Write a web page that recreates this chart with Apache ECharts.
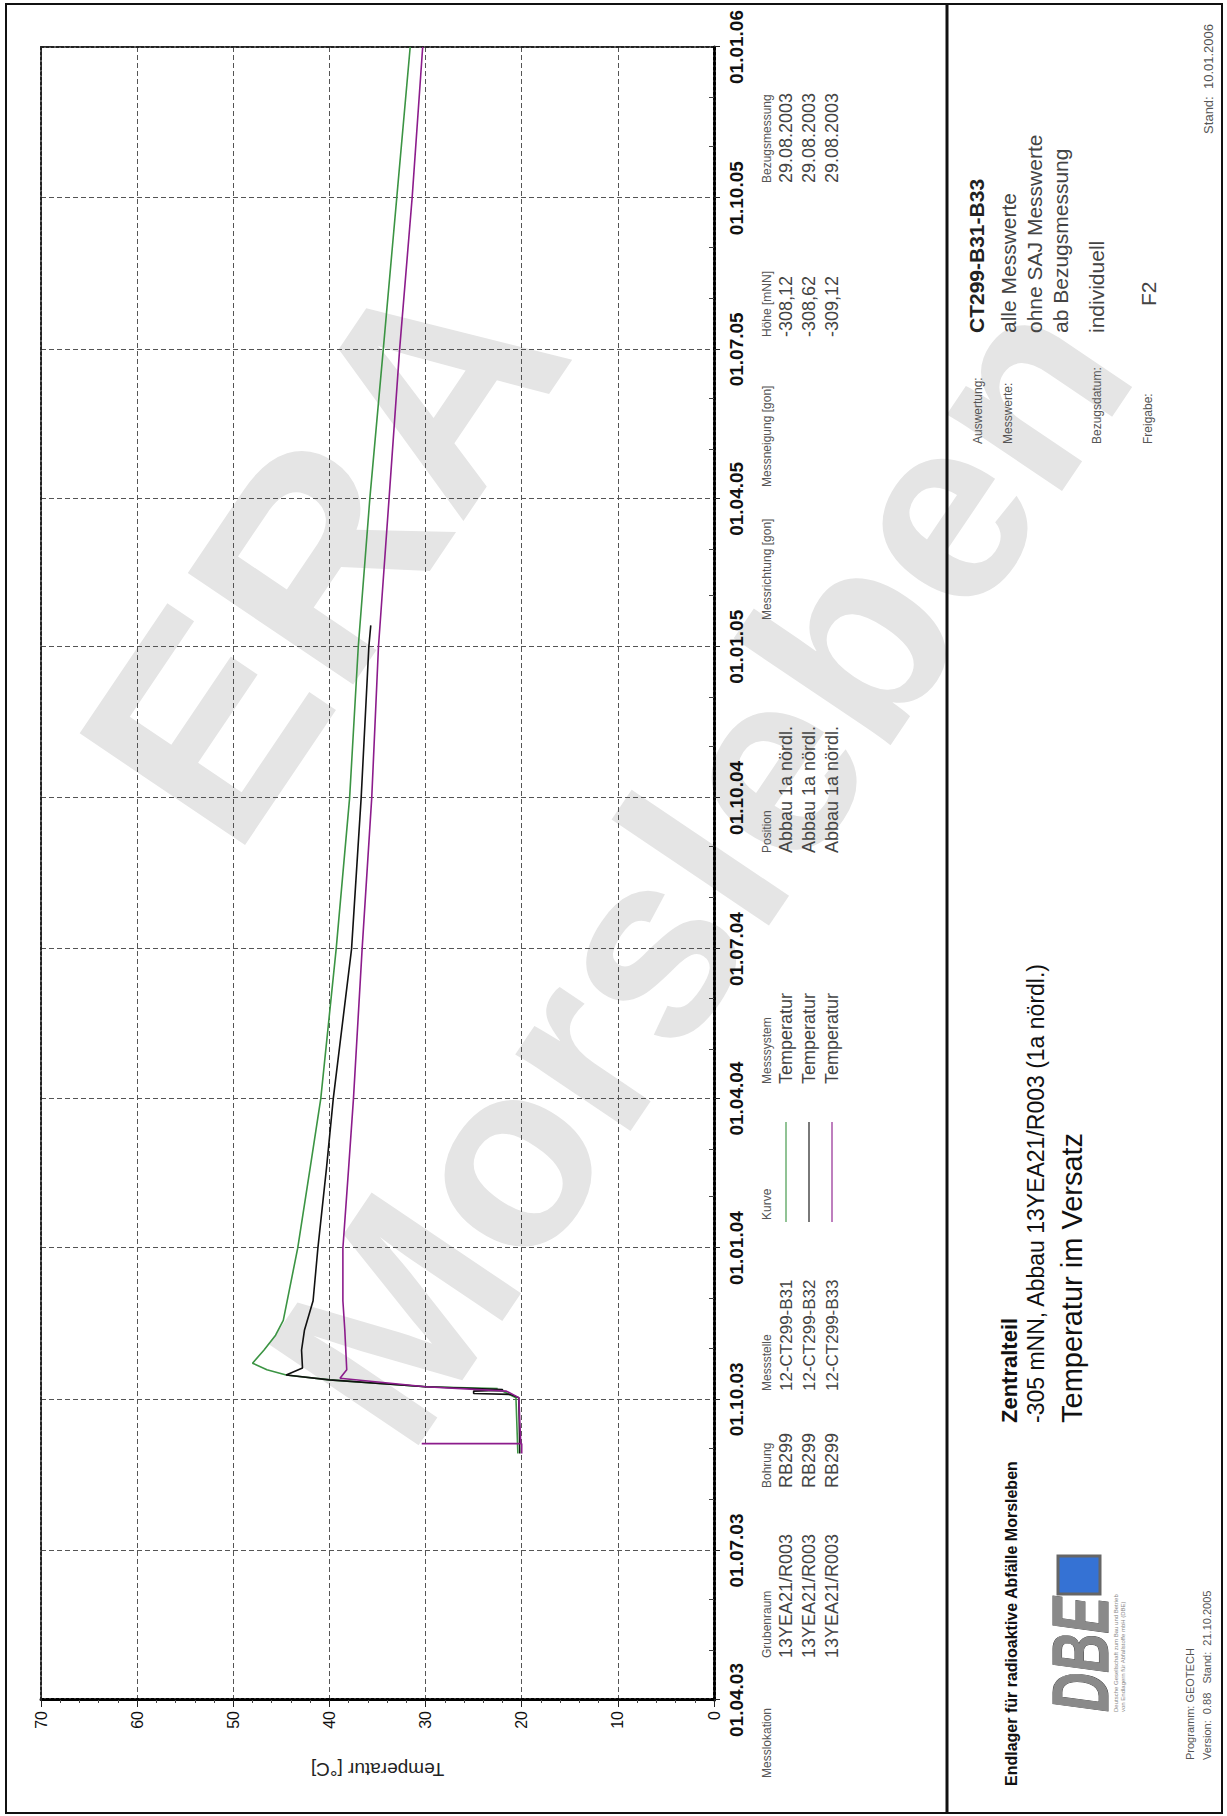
<!DOCTYPE html>
<html><head><meta charset="utf-8">
<script src="https://cdn.jsdelivr.net/npm/echarts@6/dist/echarts.min.js"></script>
<style>
html,body{margin:0;padding:0;background:#fff;overflow:hidden;width:1227px;height:1816px;}
#page{position:absolute;left:0;top:0;width:1816px;height:1227px;transform-origin:0 0;transform:translate(0,1816px) rotate(-90deg);background:#fff;}
</style></head><body><div id="page"></div>
<script>
// ---- axis ticks ----
const dateTicks = ['2003-04-01','2003-07-01','2003-10-01','2004-01-01','2004-04-01','2004-07-01',
  '2004-10-01','2005-01-01','2005-04-01','2005-07-01','2005-10-01','2006-01-01'];
const tempTicks = [0,10,20,30,40,50,60,70];

// ---- series: 12-CT299-B31 (green) ----
const b31Dates = ['2003-08-29','2003-10-02','2003-10-06','2003-10-07','2003-10-07 12:00','2003-10-08 16:00',
  '2003-10-12 20:00','2003-10-15 20:00','2003-10-19','2003-10-23','2003-10-31','2003-11-09','2003-11-18',
  '2004-01-01','2004-02-19','2004-04-01','2004-07-01','2004-10-01','2005-01-01','2005-04-01','2005-07-01',
  '2005-10-01','2006-01-01'];
const b31Values = [20.4,20.6,22.0,24.5,22.5,30.0,40.0,44.5,46.5,48.0,46.8,45.6,44.8,
  43.3,42.0,40.9,39.3,37.9,37.0,35.8,34.4,33.0,31.6];

// ---- series: 12-CT299-B32 (black) ----
const b32Dates = ['2003-08-29','2003-10-02','2003-10-04','2003-10-04 12:00','2003-10-06','2003-10-06 12:00',
  '2003-10-07','2003-10-08 16:00','2003-10-12 20:00','2003-10-15 20:00','2003-10-20','2003-10-31','2003-11-12',
  '2003-11-30','2004-01-01','2004-02-19','2004-04-01','2004-07-01','2004-10-01','2005-01-01','2005-01-14'];
const b32Values = [20.2,20.3,21.2,25.0,25.0,22.0,22.0,30.0,40.0,44.5,42.8,42.9,42.6,
  41.7,41.2,40.3,39.6,37.7,36.7,35.9,35.7];

// ---- series: 12-CT299-B33 (purple) ----
const b33Dates = ['2003-08-29','2003-09-04','2003-09-04','2003-09-04','2003-10-02','2003-10-06','2003-10-08 16:00',
  '2003-10-13 20:00','2003-10-19','2003-11-12','2003-11-30','2004-01-01','2004-02-19','2004-04-01','2004-07-01',
  '2004-10-01','2005-01-01','2005-04-01','2005-07-01','2005-10-01','2006-01-01'];
const b33Values = [20.0,20.0,30.4,20.1,20.3,21.6,30.0,38.9,38.2,38.4,38.6,38.6,38.0,37.5,36.6,
  35.6,34.9,33.8,32.7,31.4,30.3];

// ---- legend table ----
const tableHeaders = ['Messlokation','Grubenraum','Bohrung','Messstelle','Kurve','Messsystem','Position',
  'Messrichtung [gon]','Messneigung [gon]','Höhe [mNN]','Bezugsmessung'];
const seriesNames = ['12-CT299-B31','12-CT299-B32','12-CT299-B33'];
const grubenraum = ['13YEA21/R003','13YEA21/R003','13YEA21/R003'];
const bohrung = ['RB299','RB299','RB299'];
const messsystem = ['Temperatur','Temperatur','Temperatur'];
const position = ['Abbau 1a nördl.','Abbau 1a nördl.','Abbau 1a nördl.'];
const hoehe = ['-308,12','-308,62','-309,12'];
const bezug = ['29.08.2003','29.08.2003','29.08.2003'];
const colors = ['#3b9443','#111111','#8c1c8c'];

const toTime = s => { const p = s.split(' '); const d = p[0].split('-').map(Number);
  let h = 0, mi = 0; if (p[1]) { const t = p[1].split(':').map(Number); h = t[0]; mi = t[1]; }
  return new Date(d[0], d[1]-1, d[2], h, mi).getTime(); };
const pad = n => (n < 10 ? '0' : '') + n;
const fmtDate = v => { const d = new Date(v); return pad(d.getDate())+'.'+pad(d.getMonth()+1)+'.'+pad(d.getFullYear()%100); };

const tMin = toTime(dateTicks[0]), tMax = toTime(dateTicks[dateTicks.length-1]);
const quarterVals = dateTicks.map(toTime);
const monthVals = [];
for (let y = 2003; y <= 2005; y++) for (let m = 0; m < 12; m++) {
  const v = new Date(y, m, 1).getTime();
  if (v > tMin && v < tMax && m % 3 !== 0) monthVals.push(v);
}

const FF = '"Liberation Sans", Arial, sans-serif';
const G = [];
function T(x, y, text, size, o) {
  o = o || {};
  G.push({ type: 'text', x: x, y: y, rotation: o.rot || 0, scaleX: o.sx || 1, z: o.z || 10,
    style: { text: text, fontSize: size, fontFamily: FF, fontWeight: o.bold ? 'bold' : 'normal',
      fontStyle: o.italic ? 'italic' : 'normal', fill: o.fill || '#333',
      stroke: o.stroke || null, lineWidth: o.stroke ? 1 : 0,
      align: o.align || 'left', textAlign: o.align || 'left', verticalAlign: 'middle', textVerticalAlign: 'middle' } });
}
// watermark
T(1265, 322, 'ERA', 290, { bold: true, fill: '#e5e5e5', align: 'center', rot: -34*Math.PI/180, z: -5 });
T(950, 700, 'Morsleben', 262, { bold: true, fill: '#e5e5e5', align: 'center', rot: -34*Math.PI/180, z: -5 });

// frame & separator
G.push({ type: 'rect', shape: { x: 3, y: 6, width: 1809, height: 1216 }, style: { fill: null, stroke: '#111', lineWidth: 2 }, z: 10 });
G.push({ type: 'line', shape: { x1: 3, y1: 947, x2: 1812, y2: 947 }, style: { stroke: '#111', lineWidth: 3 }, z: 10 });

// legend table
const colX = [38, 158, 328, 425, 596, 732, 963, 1196, 1329, 1479, 1633];
const hdrY = 767, rowY = [786, 809, 832];
tableHeaders.forEach((h, i) => T(colX[i], hdrY, h, 12, { fill: '#555' }));
for (let r = 0; r < 3; r++) {
  T(colX[1], rowY[r], grubenraum[r], 18, { fill: '#444' });
  T(colX[2], rowY[r], bohrung[r], 18, { fill: '#444' });
  T(colX[3], rowY[r], seriesNames[r], 17, { fill: '#444' });
  G.push({ type: 'line', shape: { x1: 594, y1: rowY[r], x2: 694, y2: rowY[r] }, style: { stroke: colors[r], lineWidth: 1.5, opacity: 0.75 }, z: 10 });
  T(colX[5], rowY[r], messsystem[r], 18, { fill: '#444' });
  T(colX[6], rowY[r], position[r], 18, { fill: '#444' });
  T(colX[9], rowY[r], hoehe[r], 18, { fill: '#444' });
  T(colX[10], rowY[r], bezug[r], 18, { fill: '#444' });
}

// info panel (left)
T(30, 1011, 'Endlager für radioaktive Abfälle Morsleben', 16, { bold: true, fill: '#111' });
T(393, 1009, 'Zentralteil', 22, { bold: true, fill: '#111' });
T(393, 1036, '-305 mNN, Abbau 13YEA21/R003 (1a nördl.)', 23, { fill: '#111' });
T(393, 1072, 'Temperatur im Versatz', 29, { fill: '#111' });
// DBE logo
T(104, 1080, 'DBE', 80, { bold: true, italic: true, fill: '#8a8a8a', stroke: '#444', sx: 0.68 });
G.push({ type: 'rect', shape: { x: 222, y: 1058, width: 38, height: 42 }, style: { fill: '#3572d4', stroke: '#666', lineWidth: 3 }, z: 10 });
T(104, 1116, 'Deutsche Gesellschaft zum Bau und Betrieb', 6, { fill: '#888' });
T(104, 1123, 'von Endlagern für Abfallstoffe mbH (DBE)', 6, { fill: '#888' });
T(56, 1190, 'Programm: GEOTECH', 11, { fill: '#555' });
T(56, 1207, 'Version:  0.88   Stand:  21.10.2005', 11, { fill: '#555' });
// info panel (right)
T(1372, 978, 'Auswertung:', 12, { fill: '#555' });
T(1483, 976, 'CT299-B31-B33', 21, { bold: true, fill: '#222' });
T(1372, 1008, 'Messwerte:', 12, { fill: '#555' });
T(1483, 1008, 'alle Messwerte', 21, { fill: '#444' });
T(1483, 1034, 'ohne SAJ Messwerte', 21, { fill: '#444' });
T(1483, 1060, 'ab Bezugsmessung', 21, { fill: '#444' });
T(1372, 1097, 'Bezugsdatum:', 12, { fill: '#555' });
T(1483, 1096, 'individuell', 21, { fill: '#444' });
T(1372, 1148, 'Freigabe:', 12, { fill: '#555' });
T(1510, 1148, 'F2', 21, { fill: '#444' });
T(1792, 1208, 'Stand:  10.01.2006', 13, { fill: '#555', align: 'right' });

const gridStyle = { color: '#555', width: 1, type: [5, 3] };
const chart = echarts.init(document.getElementById('page'), null, { renderer: 'svg', width: 1816, height: 1227 });
chart.setOption({
  animation: false,
  backgroundColor: '#fff',
  grid: { left: 116, right: 47, top: 41, bottom: 513, containLabel: false },
  xAxis: [
    { type: 'value', min: tMin, max: tMax, position: 'bottom', scale: true,
      axisLine: { show: true, onZero: false, lineStyle: { color: '#000', width: 3, type: [3, 2] } },
      axisTick: { show: true, inside: false, length: 6, lineStyle: { color: '#222' }, customValues: quarterVals },
      axisLabel: { show: true, customValues: quarterVals, formatter: fmtDate, margin: 13, fontSize: 19, fontWeight: 'bold',
        fontFamily: FF, color: '#111', hideOverlap: false, showMinLabel: true, showMaxLabel: true },
      splitLine: { show: true, lineStyle: gridStyle } },
    { type: 'value', min: tMin, max: tMax, position: 'top', scale: true,
      axisLine: { show: true, onZero: false, lineStyle: { color: '#222', width: 2, type: [3, 2] } },
      axisTick: { show: false }, axisLabel: { show: false }, splitLine: { show: false } },
    { type: 'value', min: tMin, max: tMax, position: 'bottom', scale: true,
      axisLine: { show: false, onZero: false },
      axisTick: { show: true, inside: true, length: 5, lineStyle: { color: '#444' }, customValues: monthVals },
      axisLabel: { show: false }, splitLine: { show: false } }
  ],
  yAxis: [
    { type: 'value', min: tempTicks[0], max: tempTicks[tempTicks.length-1], interval: 10, position: 'left',
      name: 'Temperatur [°C]', nameLocation: 'middle', nameGap: 60, nameRotate: 90,
      nameTextStyle: { fontSize: 19, fontFamily: FF, color: '#222' },
      axisLine: { show: true, onZero: false, lineStyle: { color: '#000', width: 3, type: [3, 2] } },
      axisTick: { show: true, length: 7, lineStyle: { color: '#222' } },
      minorTick: { show: true, splitNumber: 5, length: 3, lineStyle: { color: '#444' } },
      axisLabel: { fontSize: 16, fontFamily: FF, color: '#111', margin: 11 },
      splitLine: { show: true, lineStyle: gridStyle } },
    { type: 'value', min: tempTicks[0], max: tempTicks[tempTicks.length-1], interval: 10, position: 'right',
      axisLine: { show: true, onZero: false, lineStyle: { color: '#222', width: 2, type: [3, 2] } },
      axisTick: { show: false }, axisLabel: { show: false }, splitLine: { show: false } }
  ],
  series: [
    { name: seriesNames[0], type: 'line', xAxisIndex: 0, yAxisIndex: 0, showSymbol: false, z: 3,
      lineStyle: { color: colors[0], width: 1.6 }, data: b31Dates.map((d, i) => [toTime(d), b31Values[i]]) },
    { name: seriesNames[1], type: 'line', xAxisIndex: 0, yAxisIndex: 0, showSymbol: false, z: 3,
      lineStyle: { color: colors[1], width: 1.6 }, data: b32Dates.map((d, i) => [toTime(d), b32Values[i]]) },
    { name: seriesNames[2], type: 'line', xAxisIndex: 0, yAxisIndex: 0, showSymbol: false, z: 3,
      lineStyle: { color: colors[2], width: 1.6 }, data: b33Dates.map((d, i) => [toTime(d), b33Values[i]]) }
  ],
  graphic: { elements: G }
});
</script></body></html>
